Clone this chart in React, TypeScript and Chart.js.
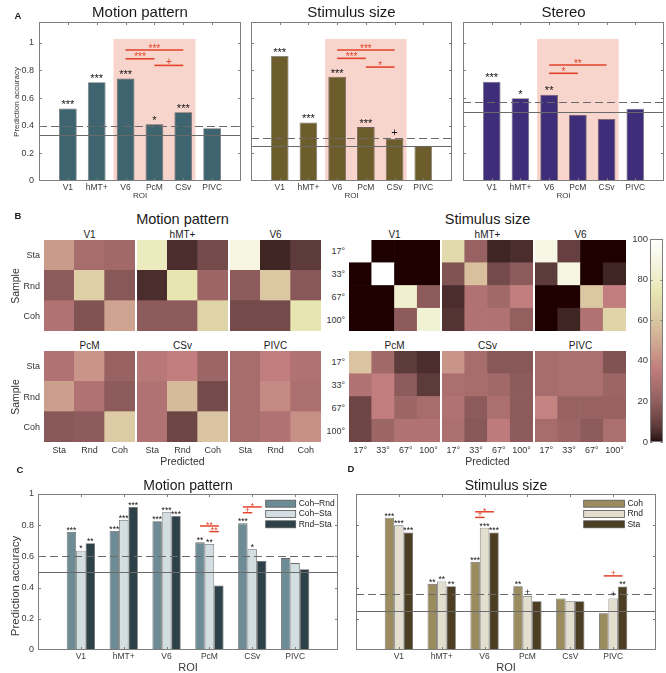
import React, { useEffect, useRef } from 'react';
import { Chart, registerables } from 'chart.js';

Chart.register(...registerables);

const FONT = '"Liberation Sans", Arial, Helvetica, sans-serif';

/* ======================= DATA ======================= */
type Sig = [number, number, number, number, number, string]; // roiA, datasetA, roiB, datasetB, y, label

const ROI_LABELS = ['V1', 'hMT+', 'V6', 'PcM', 'CSv', 'PIVC'];
const ROI_LABELS_D = ['V1', 'hMT+', 'V6', 'PcM', 'CsV', 'PIVC'];
const ACC_TICKS = [0, 0.2, 0.4, 0.6, 0.8, 1];
const CBAR_TICKS = [0, 20, 40, 60, 80, 100];

// Panel A – Motion pattern
const motionAcc = [0.525, 0.714, 0.742, 0.41, 0.497, 0.381];
const motionStars = ['***', '***', '***', '*', '***', ''];
const motionChance = 0.333;
const motionThresh = 0.395;
const motionSig: Sig[] = [[2, 0, 4, 0, 0.947, '***'], [2, 0, 3, 0, 0.884, '***'], [3, 0, 4, 0, 0.836, '+']];

// Panel A – Stimulus size
const sizeAcc = [0.904, 0.424, 0.754, 0.39, 0.304, 0.255];
const sizeStars = ['***', '***', '***', '***', '+', ''];
const sizeChance = 0.25;
const sizeThresh = 0.311;
const sizeSig: Sig[] = [[2, 0, 4, 0, 0.947, '***'], [2, 0, 3, 0, 0.887, '***'], [3, 0, 4, 0, 0.824, '*']];

// Panel A – Stereo
const stereoAcc = [0.718, 0.598, 0.624, 0.479, 0.448, 0.523];
const stereoStars = ['***', '*', '**', '', '', ''];
const stereoChance = 0.5;
const stereoThresh = 0.571;
const stereoSig: Sig[] = [[2, 0, 4, 0, 0.839, '**'], [2, 0, 3, 0, 0.779, '*']];

const shadedRois = [2, 4];

// Panel B – confusion matrices (% , rows = sample, cols = predicted)
const motionClasses = ['Sta', 'Rnd', 'Coh'];
const motionV1 = [[45, 28, 25], [20, 64, 18], [30, 17, 48]];
const motionHMT = [[78, 5, 14], [6, 72, 24], [19, 19, 65]];
const motionV6 = [[88, 4, 8], [20, 60, 18], [14, 14, 72]];
const motionPcM = [[30, 43, 22], [46, 31, 20], [18, 19, 62]];
const motionCSv = [[34, 36, 24], [31, 55, 14], [31, 12, 58]];
const motionPIVC = [[28, 36, 31], [28, 40, 29], [28, 31, 41]];

const sizeClasses = ['17°', '33°', '67°', '100°'];
const sizeV1 = [[100, 0, 0, 0], [0, 100, 0, 0], [0, 0, 82, 20], [0, 0, 20, 84]];
const sizeHMT = [[68, 22, 4, 6], [16, 57, 13, 19], [5, 31, 25, 36], [7, 31, 31, 21]];
const sizeV6 = [[90, 10, 0, 0], [9, 88, 0, 4], [0, 0, 60, 37], [0, 4, 31, 65]];
const sizePcM = [[58, 26, 9, 5], [31, 37, 20, 9], [12, 37, 24, 28], [12, 24, 31, 31]];
const sizeCSv = [[43, 27, 18, 18], [29, 27, 26, 20], [30, 20, 29, 20], [29, 18, 35, 20]];
const sizePIVC = [[28, 29, 29, 16], [27, 29, 29, 24], [38, 23, 23, 23], [28, 24, 20, 29]];

// Panel C – pairwise motion pattern
const pairLabelsC = ['Coh–Rnd', 'Coh–Sta', 'Rnd–Sta'];
const cohRnd = [0.757, 0.763, 0.825, 0.69, 0.812, 0.589];
const cohSta = [0.637, 0.834, 0.883, 0.68, 0.646, 0.557];
const rndSta = [0.685, 0.917, 0.859, 0.413, 0.571, 0.518];
const cohRndStars = ['***', '***', '***', '**', '***', ''];
const cohStaStars = ['*', '***', '***', '**', '*', ''];
const rndStaStars = ['**', '***', '***', '', '', ''];
const pairChance = 0.5;
const pairThresh = 0.6;
const pairSig: Sig[] = [[3, 0, 3, 2, 0.795, '**'], [3, 1, 3, 2, 0.759, '**'], [4, 0, 4, 2, 0.917, '*'], [4, 0, 4, 1, 0.88, '+']];

// Panel D – stimulus size per motion pattern
const patLabelsD = ['Coh', 'Rnd', 'Sta'];
const sizeCoh = [0.848, 0.424, 0.565, 0.409, 0.33, 0.236];
const sizeRnd = [0.799, 0.439, 0.784, 0.347, 0.313, 0.33];
const sizeSta = [0.754, 0.409, 0.754, 0.313, 0.313, 0.407];
const sizeCohStars = ['***', '**', '***', '**', '', ''];
const sizeRndStars = ['***', '**', '***', '+', '', '+'];
const sizeStaStars = ['***', '**', '***', '', '', '**'];
const patChance = 0.25;
const patThresh = 0.362;
const patSig: Sig[] = [[2, 0, 2, 2, 0.886, '*'], [2, 0, 2, 1, 0.85, '+'], [5, 0, 5, 2, 0.475, '+']];

/* ======================= STYLE ======================= */
const AXIS = '#7d7d7d';
const REF = '#6a6a6a';
const RED = '#e2432a';
const SHADE = '#f8d5cc';
const SHADE_PAD = 0.42;
const SHADE_TOP = 1.027;
const TICK = 3;

function pinkRGB(i: number): number[] {
  const m = 64, n = 24;
  const gray = i / (m - 1);
  const hr = i < n ? (i + 1) / n : 1;
  const hg = i < n ? 0 : i < 2 * n ? (i - n + 1) / n : 1;
  const hb = i < 2 * n ? 0 : (i - 2 * n + 1) / (m - 2 * n);
  return [hr, hg, hb].map((h) => Math.round(255 * Math.sqrt((2 * gray + h) / 3)));
}
function pinkColor(v: number): string {
  const i = Math.max(0, Math.min(63, Math.floor((v / 100) * 64)));
  const [r, g, b] = pinkRGB(i);
  return `rgb(${r},${g},${b})`;
}

function mark(ctx: CanvasRenderingContext2D, text: string, x: number, cy: number, size: number, color: string) {
  ctx.font = `${size}px ${FONT}`;
  ctx.textAlign = 'center';
  ctx.textBaseline = 'alphabetic';
  ctx.fillStyle = color;
  const off = text.includes('*') ? 0.57 * size : 0.35 * size;
  ctx.fillText(text, x, cy + off);
}

type Rect = [number, number, number, number]; // x, y, w, h (page)
type Plot = [number, number, number, number]; // left, top, right, bottom (page)

function padding(rect: Rect, plot: Plot) {
  return { left: plot[0] - rect[0], top: plot[1] - rect[1], right: rect[0] + rect[2] - plot[2], bottom: rect[1] + rect[3] - plot[3] };
}

interface DecorCfg {
  stars: string[][];
  starSize: number;
  starGap: number;
  chance: number;
  thresh: number;
  sig: Sig[];
  sigSize: number;
  sigGap: number;
  sigWidth: number;
  shade?: number[];
  yLabels: boolean;
  yFont: number;
  yOff: number;
  xFont: number;
  xOff: number;
  legend?: { dx: number; dy: number; w: number; h: number; step: number; font: number };
}

function decorPlugin(cfg: DecorCfg) {
  return {
    id: 'decor',
    beforeDatasetsDraw(chart: any) {
      if (!cfg.shade) return;
      const { ctx } = chart;
      const x = chart.scales.x, y = chart.scales.y;
      const x0 = x.getPixelForValue(cfg.shade[0] + 1 - SHADE_PAD);
      const x1 = x.getPixelForValue(cfg.shade[1] + 1 + SHADE_PAD);
      const y0 = y.getPixelForValue(SHADE_TOP);
      const y1 = y.getPixelForValue(0);
      ctx.save();
      ctx.fillStyle = SHADE;
      ctx.fillRect(x0, y0, x1 - x0, y1 - y0);
      ctx.restore();
    },
    afterDatasetsDraw(chart: any) {
      const { ctx, chartArea: a } = chart;
      const x = chart.scales.x, y = chart.scales.y;
      ctx.save();
      // reference lines
      ctx.lineWidth = 1;
      ctx.strokeStyle = REF;
      const hline = (v: number) => {
        const py = Math.round(y.getPixelForValue(v)) + 0.5;
        ctx.beginPath();
        ctx.moveTo(a.left, py);
        ctx.lineTo(a.right, py);
        ctx.stroke();
      };
      hline(cfg.chance);
      ctx.setLineDash([8, 4]);
      hline(cfg.thresh);
      ctx.setLineDash([]);
      // significance bars
      ctx.strokeStyle = RED;
      ctx.lineWidth = cfg.sigWidth;
      for (const [ra, da, rb, db, v, lab] of cfg.sig) {
        const xa = chart.getDatasetMeta(da).data[ra + 1].x;
        const xb = chart.getDatasetMeta(db).data[rb + 1].x;
        const py = y.getPixelForValue(v);
        ctx.beginPath();
        ctx.moveTo(xa, py);
        ctx.lineTo(xb, py);
        ctx.stroke();
        mark(ctx, lab, (xa + xb) / 2, py - cfg.sigGap, cfg.sigSize, RED);
      }
      // stars above bars
      cfg.stars.forEach((arr, d) => {
        const meta = chart.getDatasetMeta(d);
        arr.forEach((s, i) => {
          if (!s) return;
          const el = meta.data[i + 1];
          mark(ctx, s, el.x, el.y - cfg.starGap, cfg.starSize, '#111');
        });
      });
      // box
      ctx.strokeStyle = AXIS;
      ctx.lineWidth = 1;
      ctx.strokeRect(a.left + 0.5, a.top + 0.5, a.right - a.left - 1, a.bottom - a.top - 1);
      // ticks (inward, mirrored)
      ctx.beginPath();
      for (const v of ACC_TICKS) {
        const py = Math.round(y.getPixelForValue(v)) + 0.5;
        if (py < a.top || py > a.bottom) continue;
        ctx.moveTo(a.left, py);
        ctx.lineTo(a.left + TICK, py);
        ctx.moveTo(a.right, py);
        ctx.lineTo(a.right - TICK, py);
      }
      const labels: string[] = chart.data.labels;
      labels.forEach((l, i) => {
        if (!l) return;
        const px = Math.round(x.getPixelForValue(i)) + 0.5;
        ctx.moveTo(px, a.bottom);
        ctx.lineTo(px, a.bottom - TICK);
        ctx.moveTo(px, a.top);
        ctx.lineTo(px, a.top + TICK);
      });
      ctx.stroke();
      // tick labels
      ctx.fillStyle = '#3a3a3a';
      ctx.font = `${cfg.xFont}px ${FONT}`;
      ctx.textAlign = 'center';
      ctx.textBaseline = 'middle';
      labels.forEach((l, i) => {
        if (l) ctx.fillText(l, x.getPixelForValue(i), a.bottom + cfg.xOff);
      });
      if (cfg.yLabels) {
        ctx.font = `${cfg.yFont}px ${FONT}`;
        ctx.textAlign = 'right';
        for (const v of ACC_TICKS) ctx.fillText(String(v), a.left - cfg.yOff, y.getPixelForValue(v));
      }
      // legend
      if (cfg.legend) {
        const L = cfg.legend;
        chart.data.datasets.forEach((ds: any, i: number) => {
          const lx = a.left + L.dx;
          const cy = a.top + L.dy + i * L.step;
          ctx.fillStyle = ds.backgroundColor;
          ctx.fillRect(lx, cy - L.h / 2, L.w, L.h);
          ctx.strokeStyle = '#555';
          ctx.lineWidth = 0.8;
          ctx.strokeRect(lx, cy - L.h / 2, L.w, L.h);
          ctx.fillStyle = '#222';
          ctx.font = `${L.font}px ${FONT}`;
          ctx.textAlign = 'left';
          ctx.textBaseline = 'middle';
          ctx.fillText(ds.label, lx + L.w + 3, cy);
        });
      }
      ctx.restore();
    },
  };
}

const pad1 = (v: number[]) => [null, ...v, null];

function baseOptions(rect: Rect, plot: Plot, yMax: number) {
  return {
    animation: false,
    responsive: false,
    maintainAspectRatio: false,
    devicePixelRatio: 1,
    events: [],
    layout: { padding: padding(rect, plot) },
    plugins: { legend: { display: false }, tooltip: { enabled: false }, title: { display: false } },
    scales: {
      x: { type: 'category', display: false, offset: false },
      y: { type: 'linear', display: false, min: 0, max: yMax },
    },
  };
}

function roiConfig(rect: Rect, plot: Plot, values: number[], color: string, stars: string[], chance: number, thresh: number, sig: Sig[], yLabels: boolean) {
  return {
    type: 'bar',
    data: {
      labels: ['', ...ROI_LABELS, ''],
      datasets: [{ data: pad1(values), backgroundColor: color, borderColor: 'rgba(0,0,0,0.55)', borderWidth: 0.8, barPercentage: 0.615, categoryPercentage: 1 }],
    },
    options: baseOptions(rect, plot, 1.15),
    plugins: [
      decorPlugin({
        stars: [stars], starSize: 11, starGap: 6.5, chance, thresh, sig, sigSize: 10, sigGap: 4, sigWidth: 1.6,
        shade: shadedRois, yLabels, yFont: 9, yOff: 5, xFont: 8.5, xOff: 7,
      }),
    ],
  };
}

function groupConfig(rect: Rect, plot: Plot, labels: string[], series: number[][], names: string[], colors: string[], stars: string[][], chance: number, thresh: number, sig: Sig[], yLabels: boolean, legendW: number) {
  return {
    type: 'bar',
    data: {
      labels: ['', ...labels, ''],
      datasets: series.map((s, i) => ({
        label: names[i], data: pad1(s), backgroundColor: colors[i], borderColor: 'rgba(40,40,40,0.7)', borderWidth: 0.8,
        barPercentage: 1, categoryPercentage: 0.66,
      })),
    },
    options: baseOptions(rect, plot, 1),
    plugins: [
      decorPlugin({
        stars, starSize: 8.5, starGap: 4, chance, thresh, sig, sigSize: 8.5, sigGap: 3, sigWidth: 1.5,
        yLabels, yFont: 9, yOff: 4, xFont: 8.5, xOff: 6.5,
        legend: { dx: plot[2] - plot[0] - 72.3, dy: 9.7, w: legendW, h: 7, step: 10.3, font: 8.5 },
      }),
    ],
  };
}

function heatmapConfig(matrix: number[][], cols: string[]) {
  const datasets = matrix
    .map((row) => ({
      data: row.map(() => 1),
      backgroundColor: row.map((v) => pinkColor(v)),
      borderWidth: 0,
      barPercentage: 1,
      categoryPercentage: 1,
    }))
    .reverse();
  return {
    type: 'bar',
    data: { labels: cols, datasets },
    options: {
      animation: false, responsive: false, maintainAspectRatio: false, devicePixelRatio: 1, events: [],
      layout: { padding: 0 },
      plugins: { legend: { display: false }, tooltip: { enabled: false } },
      scales: {
        x: { display: false, stacked: true },
        y: { display: false, stacked: true, min: 0, max: matrix.length },
      },
    },
  };
}

function colorbarConfig(rect: Rect, plot: Plot) {
  return {
    type: 'bar',
    data: {
      labels: [''],
      datasets: [{
        data: [[CBAR_TICKS[0], CBAR_TICKS[CBAR_TICKS.length - 1]]],
        borderWidth: 0, barPercentage: 1, categoryPercentage: 1,
        backgroundColor: (c: any) => {
          const ca = c.chart.chartArea;
          if (!ca) return '#000';
          const g = c.chart.ctx.createLinearGradient(0, ca.bottom, 0, ca.top);
          for (let i = 0; i < 64; i++) {
            const [r, gg, b] = pinkRGB(i);
            g.addColorStop(i / 63, `rgb(${r},${gg},${b})`);
          }
          return g;
        },
      }],
    },
    options: {
      ...baseOptions(rect, plot, 100),
      scales: { x: { type: 'category', display: false }, y: { type: 'linear', display: false, min: 0, max: 100 } },
    },
    plugins: [{
      id: 'cbar',
      afterDatasetsDraw(chart: any) {
        const { ctx, chartArea: a } = chart;
        const y = chart.scales.y;
        ctx.save();
        ctx.strokeStyle = AXIS;
        ctx.lineWidth = 1;
        ctx.strokeRect(a.left + 0.5, a.top + 0.5, a.right - a.left - 1, a.bottom - a.top - 1);
        ctx.beginPath();
        ctx.fillStyle = '#3a3a3a';
        ctx.font = `9.5px ${FONT}`;
        ctx.textAlign = 'right';
        ctx.textBaseline = 'middle';
        for (const v of CBAR_TICKS) {
          const py = Math.round(y.getPixelForValue(v)) + 0.5;
          ctx.moveTo(a.left, py); ctx.lineTo(a.left + 2.5, py);
          ctx.moveTo(a.right, py); ctx.lineTo(a.right - 2.5, py);
          ctx.fillText(String(v), a.left - 2, y.getPixelForValue(v));
        }
        ctx.stroke();
        ctx.restore();
      },
    }],
  };
}

/* ======================= COMPONENTS ======================= */
function ChartCanvas({ rect, make }: { rect: Rect; make: () => any }) {
  const ref = useRef<HTMLCanvasElement>(null);
  useEffect(() => {
    const chart = new Chart(ref.current as HTMLCanvasElement, make());
    return () => chart.destroy();
  }, []);
  return (
    <canvas
      ref={ref}
      width={rect[2]}
      height={rect[3]}
      style={{ position: 'absolute', left: rect[0], top: rect[1], width: rect[2], height: rect[3] }}
    />
  );
}

function T({ x, y, s, children, bold, rot, align = 'center', color = '#1a1a1a' }: any) {
  let transform = 'translate(-50%,-50%)';
  if (align === 'right') transform = 'translate(-100%,-50%)';
  if (align === 'left') transform = 'translate(0,-50%)';
  if (rot) transform += ` rotate(${rot}deg)`;
  return (
    <div
      style={{
        position: 'absolute', left: x, top: y, fontFamily: FONT, fontSize: s, lineHeight: 1, whiteSpace: 'nowrap',
        color, fontWeight: bold ? 'bold' : 'normal', transform,
      }}
    >
      {children}
    </div>
  );
}

// layout
const A_RECTS: Rect[] = [[0, 14, 246, 188], [246, 14, 210, 188], [456, 14, 210, 188]];
const A_PLOTS: Plot[] = [[39, 22, 241, 181], [251, 22, 452, 181], [463, 22, 664, 181]];
const C_RECT: Rect = [0, 470, 345, 203];
const C_PLOT: Plot = [38, 494, 338, 650];
const D_RECT: Rect = [345, 470, 321, 203];
const D_PLOT: Plot = [356, 494, 656, 650];
const HM_LEFT_X = [44, 137, 230];
const HM_RIGHT_X = [349, 442, 535];
const HM_Y = [240, 351];
const HM_SIZE = 91;
const CB_RECT: Rect = [620, 230, 46, 220];
const CB_PLOT: Plot = [650, 239, 663, 442];

export default function App() {
  const motionMaps = [[motionV1, motionHMT, motionV6], [motionPcM, motionCSv, motionPIVC]];
  const sizeMaps = [[sizeV1, sizeHMT, sizeV6], [sizePcM, sizeCSv, sizePIVC]];
  const mapTitles = [['V1', 'hMT+', 'V6'], ['PcM', 'CSv', 'PIVC']];

  const heatmaps: any[] = [];
  const texts: any[] = [];
  [0, 1].forEach((r) => {
    [0, 1, 2].forEach((c) => {
      const groups: [number[][][][], number[], string[]][] = [
        [motionMaps, HM_LEFT_X, motionClasses],
        [sizeMaps, HM_RIGHT_X, sizeClasses],
      ];
      groups.forEach(([maps, xs, cls], gi) => {
        const rect: Rect = [xs[c], HM_Y[r], HM_SIZE, HM_SIZE];
        heatmaps.push(<ChartCanvas key={`hm${gi}${r}${c}`} rect={rect} make={() => heatmapConfig(maps[r][c], cls)} />);
        texts.push(<T key={`ht${gi}${r}${c}`} x={xs[c] + HM_SIZE / 2} y={HM_Y[r] - 5.5} s={10}>{mapTitles[r][c]}</T>);
        if (c === 0) {
          cls.forEach((lab, i) => {
            texts.push(
              <T key={`rl${gi}${r}${i}`} x={xs[0] - 4} y={HM_Y[r] + ((i + 0.5) * HM_SIZE) / cls.length} s={9} align="right" color="#333">{lab}</T>
            );
          });
        }
        if (r === 1) {
          cls.forEach((lab, i) => {
            texts.push(
              <T key={`cl${gi}${c}${i}`} x={xs[c] + ((i + 0.5) * HM_SIZE) / cls.length} y={HM_Y[1] + HM_SIZE + 8} s={9} color="#333">{lab}</T>
            );
          });
        }
      });
    });
    texts.push(<T key={`samp${r}`} x={15} y={HM_Y[r] + HM_SIZE / 2} s={10.5} rot={-90} color="#333">Sample</T>);
  });

  return (
    <div style={{ position: 'absolute', left: 0, top: 0, width: 666, height: 673, background: '#fff', overflow: 'hidden' }}>
      <ChartCanvas rect={A_RECTS[0]} make={() => roiConfig(A_RECTS[0], A_PLOTS[0], motionAcc, '#3e6470', motionStars, motionChance, motionThresh, motionSig, true)} />
      <ChartCanvas rect={A_RECTS[1]} make={() => roiConfig(A_RECTS[1], A_PLOTS[1], sizeAcc, '#6e5d2c', sizeStars, sizeChance, sizeThresh, sizeSig, false)} />
      <ChartCanvas rect={A_RECTS[2]} make={() => roiConfig(A_RECTS[2], A_PLOTS[2], stereoAcc, '#3e2e7a', stereoStars, stereoChance, stereoThresh, stereoSig, false)} />
      {heatmaps}
      <ChartCanvas rect={CB_RECT} make={() => colorbarConfig(CB_RECT, CB_PLOT)} />
      <ChartCanvas
        rect={C_RECT}
        make={() => groupConfig(C_RECT, C_PLOT, ROI_LABELS, [cohRnd, cohSta, rndSta], pairLabelsC, ['#6e8c96', '#d3dee3', '#2d4149'], [cohRndStars, cohStaStars, rndStaStars], pairChance, pairThresh, pairSig, true, 30)}
      />
      <ChartCanvas
        rect={D_RECT}
        make={() => groupConfig(D_RECT, D_PLOT, ROI_LABELS_D, [sizeCoh, sizeRnd, sizeSta], patLabelsD, ['#9b8c5f', '#e4decf', '#4b3e23'], [sizeCohStars, sizeRndStars, sizeStaStars], patChance, patThresh, patSig, false, 40.7)}
      />

      {/* panel letters */}
      <T x={18} y={15.5} s={9.5} bold>A</T>
      <T x={18} y={216} s={9.5} bold>B</T>
      <T x={20} y={470} s={9.5} bold>C</T>
      <T x={351} y={469} s={9.5} bold>D</T>

      {/* panel A titles */}
      <T x={140} y={11} s={15}>Motion pattern</T>
      <T x={351.5} y={11} s={15}>Stimulus size</T>
      <T x={563.5} y={11} s={15}>Stereo</T>
      <T x={140} y={196} s={8} color="#3a3a3a">ROI</T>
      <T x={351.5} y={196} s={8} color="#3a3a3a">ROI</T>
      <T x={563.5} y={196} s={8} color="#3a3a3a">ROI</T>
      <T x={16.5} y={101.5} s={8} rot={-90} color="#3a3a3a">Prediction accuracy</T>

      {/* panel B titles */}
      <T x={182.5} y={219} s={14.5}>Motion pattern</T>
      <T x={487.5} y={219} s={14.5}>Stimulus size</T>
      <T x={182.5} y={461} s={10.5} color="#333">Predicted</T>
      <T x={487.5} y={461} s={10.5} color="#333">Predicted</T>
      {texts}

      {/* panel C & D titles */}
      <T x={188} y={485} s={14}>Motion pattern</T>
      <T x={506} y={485} s={14}>Stimulus size</T>
      <T x={188} y={666.5} s={11} color="#3a3a3a">ROI</T>
      <T x={506} y={666.5} s={11} color="#3a3a3a">ROI</T>
      <T x={15.5} y={586} s={11.5} rot={-90} color="#3a3a3a">Prediction accuracy</T>
    </div>
  );
}
